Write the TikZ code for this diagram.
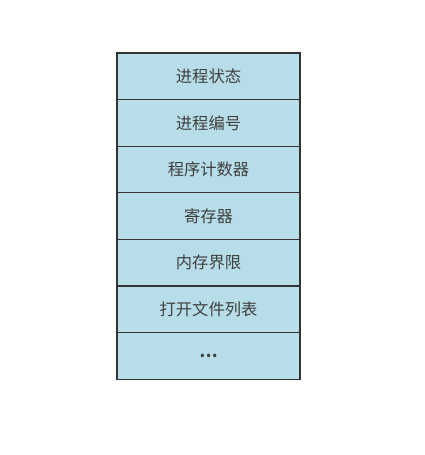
\documentclass[tikz,border=0pt]{standalone}
\usepackage{fontspec}
\newfontfamily\cjk{Noto Sans CJK SC}
\usepackage{tikz}
\usetikzlibrary{positioning}
\definecolor{cellblue}{HTML}{B7DDE8}
\definecolor{cellline}{HTML}{333333}
\definecolor{celltext}{HTML}{404040}
\tikzset{cell/.style={fill=cellblue,text=celltext,
  minimum width=183pt,minimum height=46.6pt,inner sep=0pt,outer sep=0pt,
  font=\cjk\fontsize{16.3pt}{19pt}\selectfont}}

\begin{document}
\begin{tikzpicture}
                      \useasboundingbox (0,0) rectangle (425pt,455pt);
                      \node[cell](state)at(208.5pt,378.7pt){进程状态};
                      \node[cell,below=0pt of state](pid){进程编号};
                      \node[cell,below=0pt of pid](pc){程序计数器};
                      \node[cell,below=0pt of pc](reg){寄存器};
                      \node[cell,below=0pt of reg](mem){内存界限};
                      \node[cell,below=0pt of mem](files){打开文件列表};
                      \node[cell,below=0pt of files](more){\bfseries …};
                      \foreach \n in {state,pid,pc,reg,mem,files,more}
                        \draw[cellline,line width=1.1pt] (\n.north west) rectangle (\n.south east);
                  \end{tikzpicture}
\end{document}
